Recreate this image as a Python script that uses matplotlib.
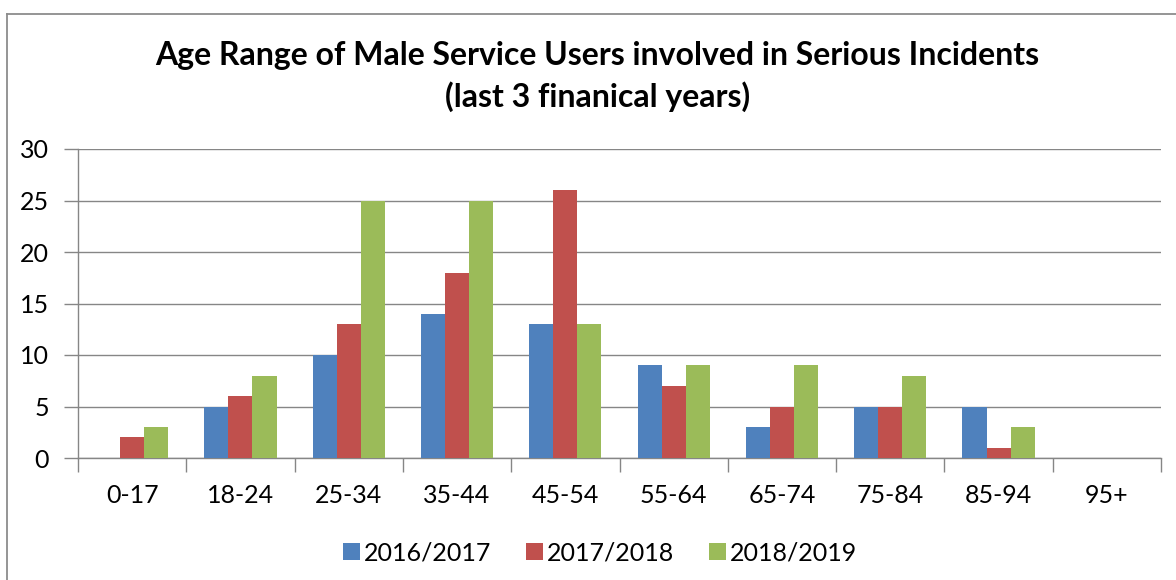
import matplotlib
matplotlib.use("Agg")
import matplotlib.pyplot as plt
import numpy as np
from matplotlib.lines import Line2D

categories = ["0-17", "18-24", "25-34", "35-44", "45-54", "55-64", "65-74", "75-84", "85-94", "95+"]
s2016 = [0, 5, 10, 14, 13, 9, 3, 5, 5, 0]
s2017 = [2, 6, 13, 18, 26, 7, 5, 5, 1, 0]
s2018 = [3, 8, 25, 25, 13, 9, 9, 8, 3, 0]
series_names = ["2016/2017", "2017/2018", "2018/2019"]
colors = ["#4F81BD", "#C0504D", "#9BBB59"]

plt.rcParams['font.family'] = ['Lato', 'DejaVu Sans']

W, H = 1176, 580
fig = plt.figure(figsize=(W / 100, H / 100), dpi=100)
# outer chart border (top and left visible; right/bottom cropped off)
bx, by = 6.5 / W, 1 - 14 / H
fig.add_artist(Line2D([bx, 1.01], [by, by], transform=fig.transFigure, color="#8c8c8c", linewidth=1.3))
fig.add_artist(Line2D([bx, bx], [-0.01, by], transform=fig.transFigure, color="#8c8c8c", linewidth=1.3))

ax = fig.add_axes([78 / W, 1 - 458 / H, (1161 - 78) / W, (458 - 149) / H])

x = np.arange(len(categories))
w = 0.222
for i, (vals, name, c) in enumerate(zip([s2016, s2017, s2018], series_names, colors)):
    ax.bar(x + (i - 1) * w, vals, width=w, color=c, label=name, zorder=3)

ax.set_xlim(-0.5, len(categories) - 0.5)
ax.set_ylim(0, 30)
ax.set_yticks(np.arange(0, 31, 5))
ax.yaxis.grid(True, color="#868686", linewidth=1.0, zorder=0)
ax.set_axisbelow(True)
for s in ["top", "right"]:
    ax.spines[s].set_visible(False)
for s in ["left", "bottom"]:
    ax.spines[s].set_color("#868686")
    ax.spines[s].set_linewidth(1.0)

ax.set_xticks(np.arange(-0.5, len(categories)), minor=False)
ax.set_xticklabels([])
ax.set_xticks(x, minor=True)
ax.set_xticklabels(categories, minor=True, fontsize=18)
ax.tick_params(axis="x", which="major", length=10, color="#868686", width=1)
ax.tick_params(axis="x", which="minor", length=0, pad=19)
ax.tick_params(axis="y", length=10, color="#868686", width=1, labelsize=18, pad=11)

fig.text(0.508, 1 - 55 / H, "Age Range of Male Service Users involved in Serious Incidents",
         ha="center", va="center", fontsize=23, fontweight="bold")
fig.text(0.508, 1 - 97 / H, "(last 3 finanical years)",
         ha="center", va="center", fontsize=23, fontweight="bold")

leg = fig.legend(loc="center", bbox_to_anchor=(0.51, 1 - 553 / H), ncol=3, frameon=False,
                 fontsize=18, handlelength=0.68, handleheight=0.68, handletextpad=0.15,
                 columnspacing=1.4, borderaxespad=0, borderpad=0)

fig.savefig("out.png", dpi=100)
